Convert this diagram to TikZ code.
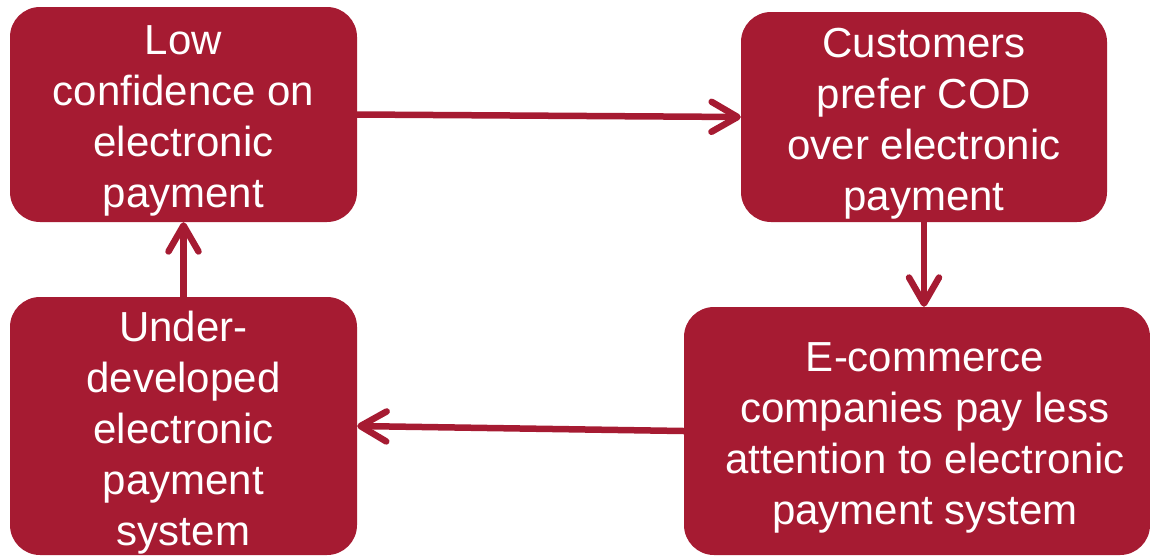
\documentclass[tikz,border=0pt]{standalone}
\usepackage{fontspec}
\setmainfont{Liberation Sans}
\usetikzlibrary{arrows.meta}
\definecolor{boxred}{RGB}{166,27,50}
\begin{document}
\begin{tikzpicture}[x=1pt,y=-1pt,
  box/.style={fill=boxred,draw=none,rounded corners=30pt,inner sep=0pt},
  lab/.style={text=white,align=center,inner sep=0pt,font=\fontsize{42}{51}\selectfont},
  conn/.style={draw=boxred,line width=6.5pt,-{Straight Barb[length=26pt,width=30pt,round]}}]
\useasboundingbox (0,0) rectangle (1150,555);
\node[box,minimum width=347pt,minimum height=215pt,
  label={[lab,yshift=-6pt]center:Low\\confidence on\\electronic\\payment}] (tl) at (183.5,114.5) {};
\node[box,minimum width=366pt,minimum height=210pt,
  label={[lab,yshift=-7pt]center:Customers\\prefer COD\\over electronic\\payment}] (tr) at (924,117) {};
\node[box,minimum width=466pt,minimum height=248pt,
  label={[lab,xshift=8pt,yshift=-7pt]center:E-commerce\\companies pay less\\attention to electronic\\payment system}] (br) at (917,431) {};
\node[box,minimum width=347pt,minimum height=258pt,
  label={[lab,yshift=-7pt]center:Under-\\developed\\electronic\\payment\\system}] (bl) at (183.5,426) {};
\draw[conn] (tl.east) -- (tr.west);
\draw[conn] (tr.south) -- (tr.south |- br.north);
\draw[conn] (br.west) -- (bl.east);
\draw[conn] (bl.north) -- (tl.south);
\end{tikzpicture}
\end{document}
